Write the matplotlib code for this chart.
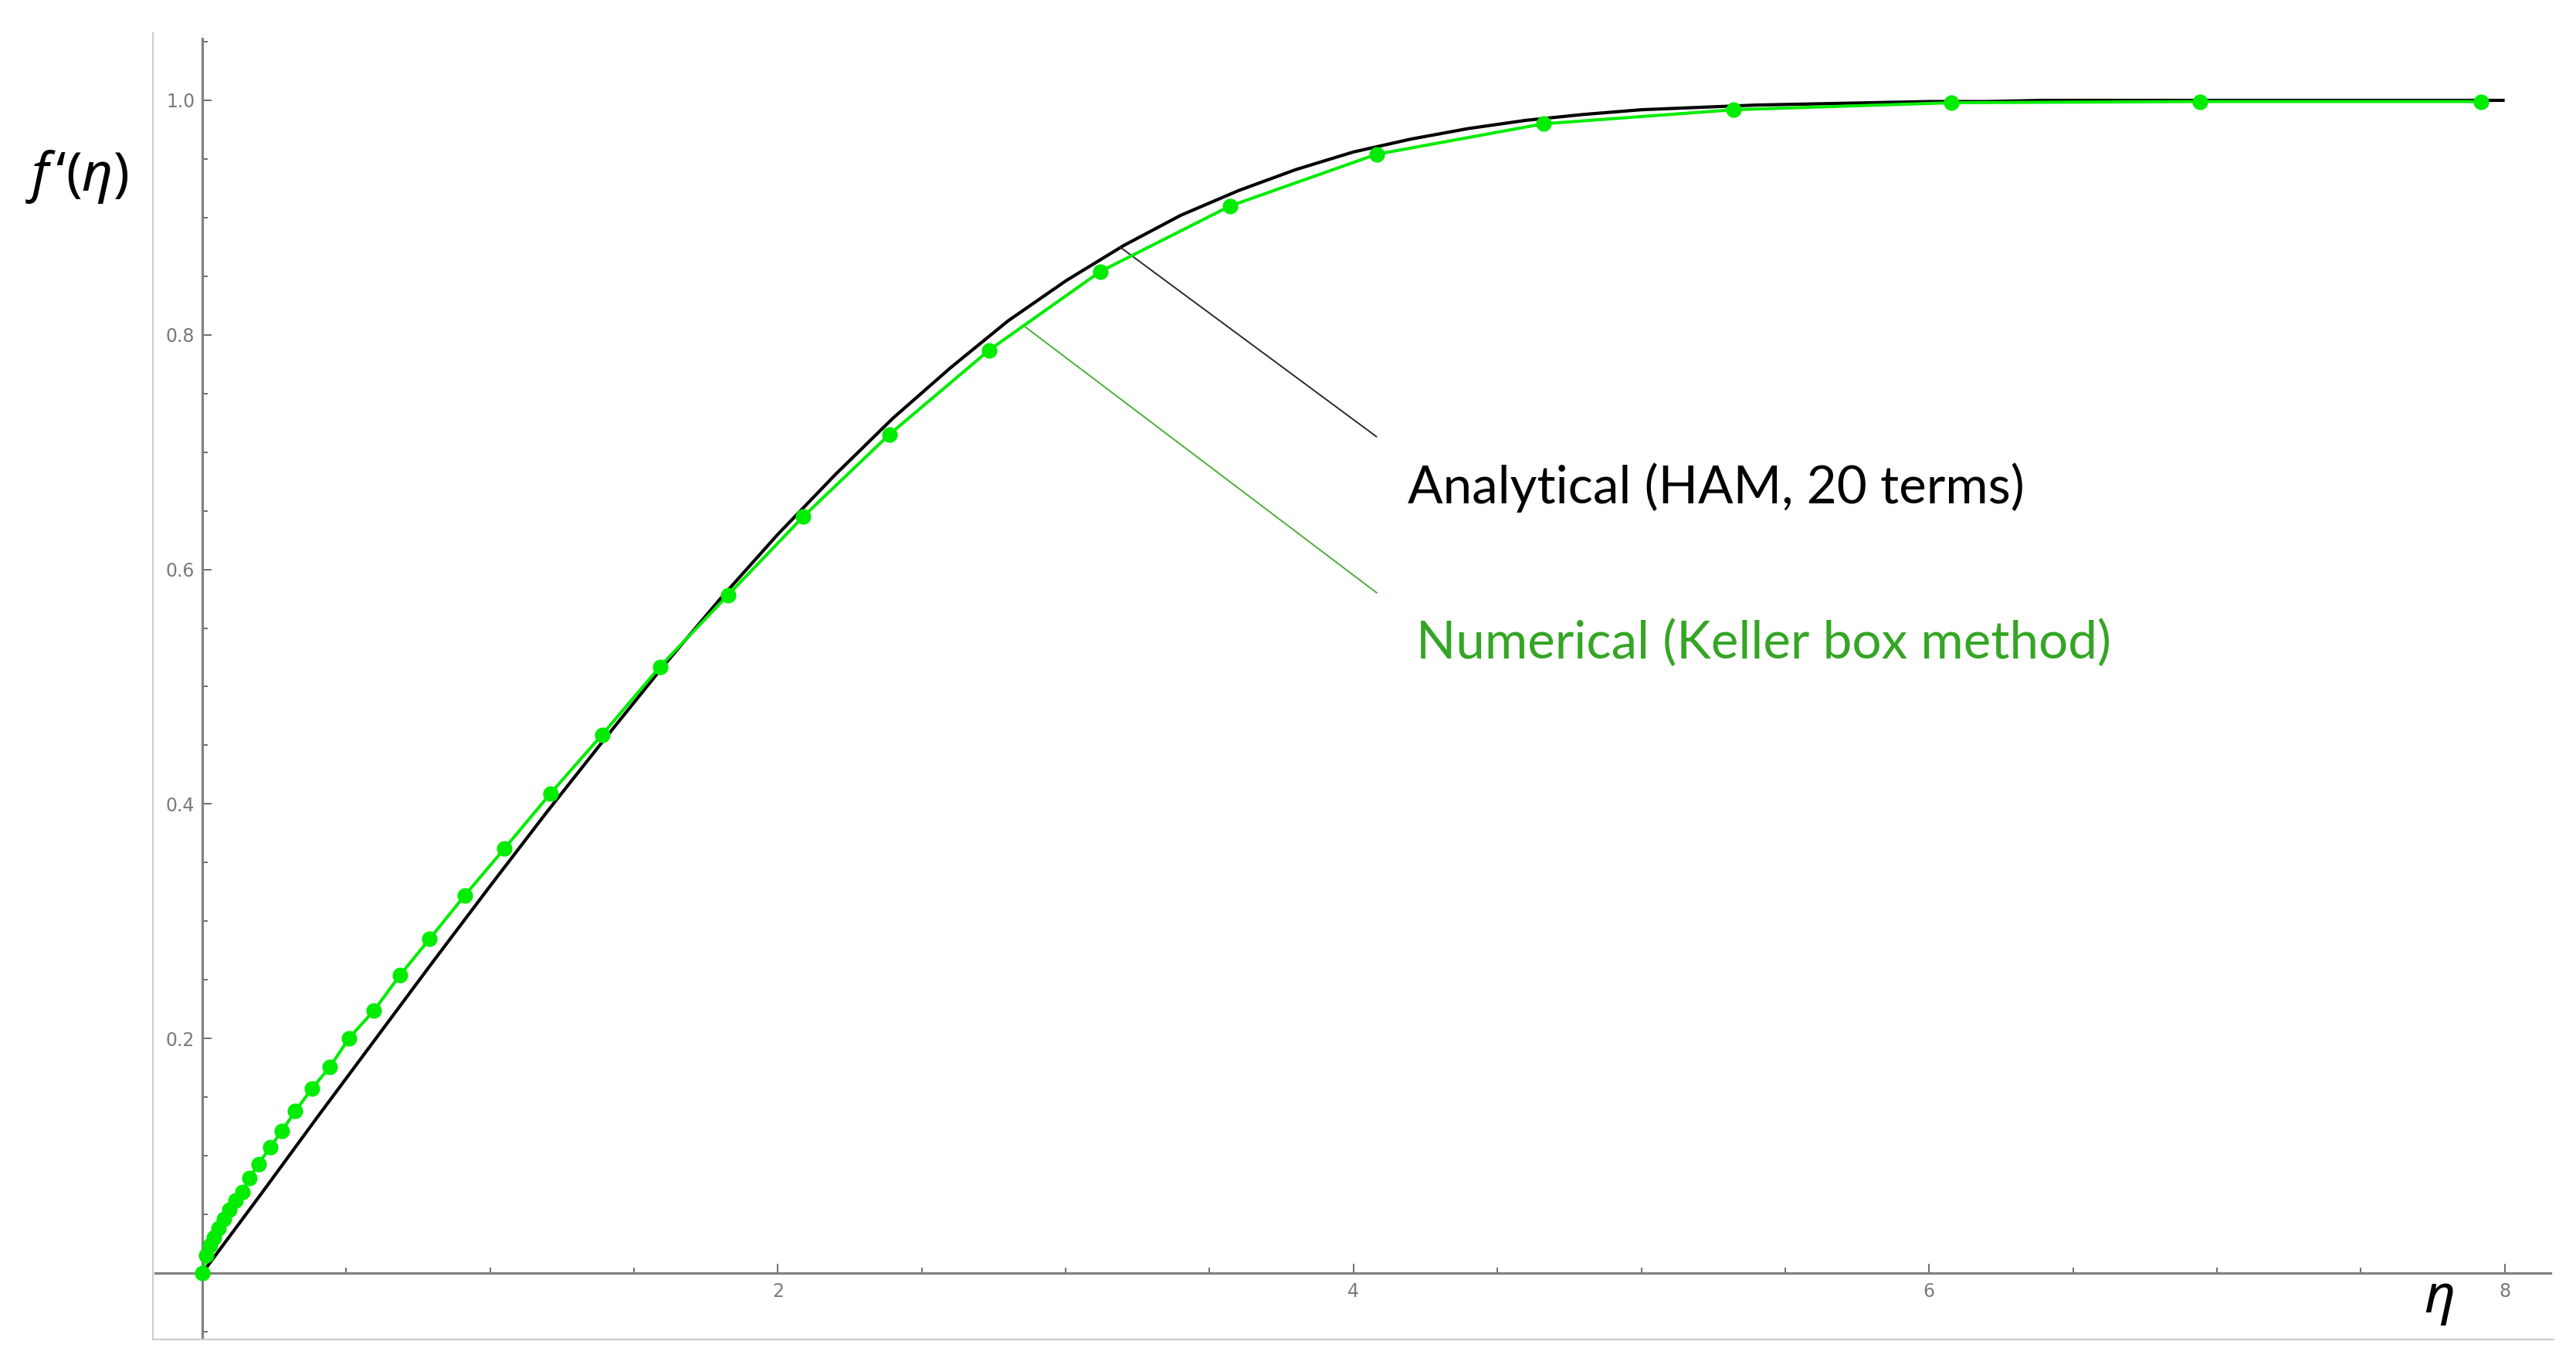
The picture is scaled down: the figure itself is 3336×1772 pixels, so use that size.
import matplotlib
matplotlib.use("Agg")
import matplotlib.pyplot as plt
from matplotlib.ticker import FixedLocator, MultipleLocator

plt.rcParams["mathtext.fontset"] = "custom"
plt.rcParams["mathtext.rm"] = "Noto Sans"
plt.rcParams["mathtext.it"] = "Noto Sans:italic"

# ---- data ----
# Analytical (HAM, 20 terms) curve
eta_ham = [0.0, 0.2, 0.4, 0.6, 0.8, 1.0, 1.2, 1.4, 1.6, 1.8, 2.0, 2.2, 2.4, 2.6,
           2.8, 3.0, 3.2, 3.4, 3.6, 3.8, 4.0, 4.2, 4.4, 4.6, 4.8, 5.0, 5.2, 5.4,
           5.6, 5.8, 6.0, 6.2, 6.4, 6.6, 6.8, 7.0, 7.2, 7.4, 7.6, 7.8, 8.0]
fp_ham = [0.0, 0.066, 0.133, 0.199, 0.265, 0.330, 0.394, 0.456, 0.517, 0.575,
          0.630, 0.681, 0.729, 0.772, 0.812, 0.846, 0.876, 0.902, 0.923, 0.941,
          0.956, 0.967, 0.976, 0.983, 0.988, 0.992, 0.994, 0.996, 0.997, 0.998,
          0.999, 0.999, 1.0, 1.0, 1.0, 1.0, 1.0, 1.0, 1.0, 1.0, 1.0]

# Numerical (Keller box method) points
eta_kb = [0.0, 0.013, 0.026, 0.040, 0.056, 0.074, 0.093, 0.115, 0.139, 0.164,
          0.195, 0.235, 0.276, 0.323, 0.380, 0.444, 0.509, 0.597, 0.687, 0.790,
          0.912, 1.050, 1.210, 1.389, 1.590, 1.826, 2.088, 2.387, 2.734, 3.120,
          3.572, 4.080, 4.660, 5.321, 6.078, 6.940, 7.918]
fp_kb = [0.0, 0.015, 0.024, 0.030, 0.038, 0.046, 0.054, 0.062, 0.069, 0.081,
         0.093, 0.107, 0.121, 0.138, 0.157, 0.176, 0.200, 0.224, 0.254, 0.285,
         0.322, 0.362, 0.409, 0.459, 0.517, 0.578, 0.645, 0.715, 0.787, 0.854,
         0.910, 0.954, 0.980, 0.992, 0.998, 0.999, 0.999]

x_ticks = [2, 4, 6, 8]
x_tick_labels = ["2", "4", "6", "8"]
y_ticks = [0.2, 0.4, 0.6, 0.8, 1.0]
y_tick_labels = ["0.2", "0.4", "0.6", "0.8", "1.0"]

label_ham = "Analytical (HAM, 20 terms)"
label_kb = "Numerical (Keller box method)"

# ---- figure ----
fig = plt.figure(figsize=(33.36, 17.72), dpi=100)
ax = fig.add_axes([0.05932, 0.0210, 0.93198, 0.9545])
ax.set_xlim(-0.172, 8.17)
ax.set_ylim(-0.0565, 1.057)

axis_gray = "#808080"
for side in ("top", "right"):
    ax.spines[side].set_visible(False)
for side in ("left", "bottom"):
    ax.spines[side].set_position(("data", 0))
    ax.spines[side].set_color(axis_gray)
    ax.spines[side].set_linewidth(2.3)
ax.spines["left"].set_bounds(-0.0545, 1.0525)
ax.spines["bottom"].set_bounds(-0.165, 8.16)

# light frame (left and bottom edges)
ax.plot([0, 0], [0, 1], transform=ax.transAxes, color="#cdcdcd", lw=1.6,
        clip_on=False, zorder=1)
ax.plot([0, 1], [0, 0], transform=ax.transAxes, color="#cdcdcd", lw=1.6,
        clip_on=False, zorder=1)

ax.xaxis.set_major_locator(FixedLocator(x_ticks))
ax.set_xticklabels(x_tick_labels)
ax.yaxis.set_major_locator(FixedLocator(y_ticks))
ax.set_yticklabels(y_tick_labels)
ax.xaxis.set_minor_locator(MultipleLocator(0.5))
ax.yaxis.set_minor_locator(MultipleLocator(0.05))

ax.tick_params(axis="both", which="major", direction="in", length=8.6,
               width=1.4, color="#6e6e6e", labelsize=17, labelcolor="#7a7a7a")
ax.tick_params(axis="both", which="minor", direction="in", length=4.7,
               width=1.4, color="#6e6e6e")
ax.tick_params(axis="x", which="major", pad=9)
ax.tick_params(axis="y", which="major", pad=7)

# curves
ax.plot(eta_ham, fp_ham, color="black", lw=3.0, zorder=3,
        solid_capstyle="butt")
ax.plot(eta_kb, fp_kb, color="#00ec00", lw=2.9, marker="o", ms=14.5,
        mec="none", zorder=4, clip_on=False)

# leader lines
ax.annotate("", xy=(3.190, 0.8747), xytext=(4.080, 0.7132),
            arrowprops=dict(arrowstyle="-", color="#2a2a2a", lw=1.4,
                            shrinkA=0, shrinkB=0))
ax.annotate("", xy=(2.860, 0.8067), xytext=(4.081, 0.580),
            arrowprops=dict(arrowstyle="-", color="#4cad3a", lw=1.4,
                            shrinkA=0, shrinkB=0))

# labels
ax.text(4.188, 0.6564, label_ham, fontsize=48.5, family="Lato",
        color="black", ha="left", va="baseline")
ax.text(4.218, 0.524, label_kb, fontsize=48.5, family="Lato",
        color="#34a524", ha="left", va="baseline")

fig.text(0.0099, 0.8606, r"$f\,‘(\eta)$", fontsize=50, ha="left",
         va="baseline", color="black")
fig.text(0.9466, 0.0406, r"$\eta$", fontsize=50, ha="center",
         va="baseline", color="black")

fig.savefig("out.png", dpi=100, facecolor="white")
